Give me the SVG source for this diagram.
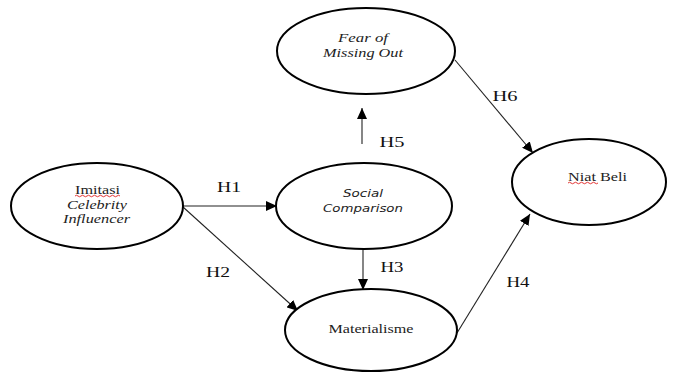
<svg xmlns="http://www.w3.org/2000/svg" width="673" height="372" viewBox="0 0 673 372">
<style>
.node{fill:#fff;stroke:#000;stroke-width:2}
.t{font-family:"Liberation Serif","Times New Roman",serif;font-size:13px;fill:#222;text-anchor:middle}
.i{font-style:italic}
.s{font-family:"DejaVu Sans",sans-serif;font-size:11px;font-style:italic;fill:#222;text-anchor:middle}
.h{font-family:"Liberation Serif","Times New Roman",serif;font-size:15px;fill:#111;text-anchor:middle}
.c{stroke:#222;stroke-width:1.1;fill:none}
.sq{fill:none;stroke:#e02020;stroke-width:0.9}
</style>
<defs>
<marker id="ah" markerUnits="userSpaceOnUse" markerWidth="12" markerHeight="10" refX="11" refY="5" orient="auto">
<path d="M0,0 L11,5 L0,10 Z" fill="#000"/>
</marker>
</defs>
<rect width="673" height="372" fill="#fff"/>
<g id="connectors">
<line class="c" x1="183" y1="206" x2="277" y2="206" marker-end="url(#ah)"/>
<line class="c" x1="183" y1="207" x2="298" y2="311" marker-end="url(#ah)"/>
<line class="c" x1="363" y1="248" x2="363" y2="290" marker-end="url(#ah)"/>
<line class="c" x1="457" y1="333" x2="530" y2="214" marker-end="url(#ah)"/>
<line class="c" x1="362" y1="144" x2="362" y2="108" marker-end="url(#ah)"/>
<line class="c" x1="455" y1="60" x2="533" y2="153" marker-end="url(#ah)"/>
<text class="h" x="229" y="192" textLength="24" lengthAdjust="spacingAndGlyphs">H1</text>
<text class="h" x="218" y="277" textLength="24" lengthAdjust="spacingAndGlyphs">H2</text>
<text class="h" x="392" y="272" textLength="23" lengthAdjust="spacingAndGlyphs">H3</text>
<text class="h" x="518" y="287" textLength="23" lengthAdjust="spacingAndGlyphs">H4</text>
<text class="h" x="392" y="147" textLength="25" lengthAdjust="spacingAndGlyphs">H5</text>
<text class="h" x="505" y="101" textLength="25" lengthAdjust="spacingAndGlyphs">H6</text>
</g>
<g id="imitasi">
<ellipse class="node" cx="97" cy="206" rx="86" ry="43"/>
<text class="t" x="97.5" y="194" textLength="45" lengthAdjust="spacingAndGlyphs">Imitasi</text>
<path class="sq" d="M75,196 q1.5,-1.5 3,0 t3,0 t3,0 t3,0 t3,0 t3,0 t3,0 t3,0 t3,0 t3,0 t3,0 t3,0 t3,0 t3,0 t3,0"/>
<text class="t i" x="97" y="209" textLength="60" lengthAdjust="spacingAndGlyphs">Celebrity</text>
<text class="t i" x="96.5" y="223" textLength="67" lengthAdjust="spacingAndGlyphs">Influencer</text>
</g>
<g id="fomo">
<ellipse class="node" cx="366" cy="51" rx="89" ry="43"/>
<text class="t i" x="363" y="42" textLength="50" lengthAdjust="spacingAndGlyphs">Fear of</text>
<text class="t i" x="363" y="57" textLength="80" lengthAdjust="spacingAndGlyphs">Missing Out</text>
</g>
<g id="social">
<ellipse class="node" cx="364" cy="206" rx="88" ry="43"/>
<text class="s" x="363" y="197" textLength="40" lengthAdjust="spacingAndGlyphs">Social</text>
<text class="s" x="363" y="212" textLength="80" lengthAdjust="spacingAndGlyphs">Comparison</text>
</g>
<g id="materialisme">
<ellipse class="node" cx="371" cy="330" rx="86" ry="41"/>
<text class="t" x="371" y="333" textLength="85" lengthAdjust="spacingAndGlyphs">Materialisme</text>
</g>
<g id="niat">
<ellipse class="node" cx="589" cy="182" rx="77" ry="43"/>
<text class="t" x="597.5" y="181" textLength="59" lengthAdjust="spacingAndGlyphs">Niat Beli</text>
<path class="sq" d="M568,183 q1.5,-1.5 3,0 t3,0 t3,0 t3,0 t3,0 t3,0 t3,0 t3,0 t3,0 t3,0"/>
</g>
</svg>
